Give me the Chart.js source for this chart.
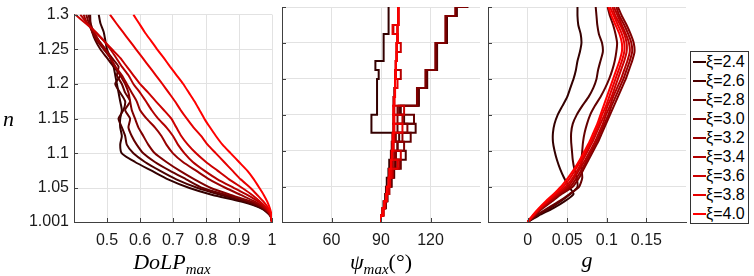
<!DOCTYPE html>
<html>
<head>
<meta charset="utf-8">
<script src="https://cdn.jsdelivr.net/npm/chart.js@4.4.1/dist/chart.umd.min.js"></script>
<style>
  body { margin: 0; background: #fff; }
  #wrap { position: relative; width: 754px; height: 276px; overflow: hidden; }
  #wrap canvas { position: absolute; left: 0; top: 0; }
  .lbl { position: absolute; font-family: 'Liberation Serif', 'DejaVu Serif', serif; font-style: italic;
         font-size: 22px; line-height: 22px; color: #000; white-space: nowrap; }
  .lbl sub { font-size: 15px; vertical-align: -5px; line-height: 0; }
  .lbl .up { font-style: normal; }
  #legend { position: absolute; left: 690px; top: 51px; width: 59px; height: 173px; box-sizing: border-box;
            border: 1px solid #333; background: #fff; padding-top: 1px;
            font-family: 'Liberation Sans', Arial, sans-serif; font-size: 16px; color: #000; }
  #legend .row { height: 18.9px; display: flex; align-items: center; white-space: nowrap; }
  #legend .row i { display: inline-block; width: 13px; height: 2px; margin-left: 2px; margin-right: 0; }
</style>
</head>
<body>
<div id="wrap">
  <canvas id="dolp" width="754" height="276"></canvas>
  <canvas id="psi" width="754" height="276"></canvas>
  <canvas id="gee" width="754" height="276"></canvas>
  <div class="lbl" style="left:3px; top:108px;">n</div>
  <div class="lbl" style="left:172px; top:251px; transform:translateX(-50%);">DoLP<sub>max</sub></div>
  <div class="lbl" style="left:381px; top:251px; transform:translateX(-50%);">ψ<sub>max</sub><span class="up">(°)</span></div>
  <div class="lbl" style="left:587px; top:249px; transform:translateX(-50%);">g</div>
  <div id="legend"></div>
</div>
<script>
// refractive index n (shared y values, bottom to top)
const nValues = [1.001, 1.01, 1.02, 1.03, 1.04, 1.05, 1.0625, 1.075, 1.0875, 1.1, 1.1125, 1.125, 1.1375,
                 1.15, 1.1625, 1.175, 1.1875, 1.2, 1.2125, 1.225, 1.2375, 1.25, 1.2625, 1.275, 1.2875, 1.3];
const xiLabels = ['2.4', '2.6', '2.8', '3.0', '3.2', '3.4', '3.6', '3.8', '4.0'];
const yTicks = [1.001, 1.05, 1.1, 1.15, 1.2, 1.25, 1.3];
const yTickLabels = ['1.001', '1.05', '1.1', '1.15', '1.2', '1.25', '1.3'];
const dolpTicks = [0.5, 0.6, 0.7, 0.8, 0.9, 1];
const psiTicks = [60, 90, 120];
const gTicks = [0, 0.05, 0.1, 0.15];

// DoLP max
const dolp24 = [1.0, 0.995, 0.97, 0.91, 0.82, 0.75, 0.685, 0.635, 0.585, 0.545, 0.54, 0.545, 0.54, 0.54, 0.545, 0.54, 0.535, 0.53, 0.525, 0.52, 0.51, 0.50, 0.495, 0.49, 0.48, 0.475];
const dolp26 = [1.0, 0.995, 0.972, 0.92, 0.845, 0.775, 0.71, 0.66, 0.615, 0.58, 0.56, 0.555, 0.545, 0.535, 0.55, 0.555, 0.54, 0.525, 0.54, 0.52, 0.50, 0.48, 0.465, 0.455, 0.45, 0.449];
const dolp28 = [1.0, 0.995, 0.975, 0.93, 0.86, 0.79, 0.74, 0.69, 0.645, 0.61, 0.59, 0.575, 0.565, 0.57, 0.555, 0.57, 0.555, 0.545, 0.53, 0.535, 0.515, 0.495, 0.475, 0.46, 0.45, 0.444];
const dolp30 = [1.0, 0.996, 0.978, 0.94, 0.875, 0.815, 0.765, 0.72, 0.68, 0.645, 0.625, 0.61, 0.595, 0.585, 0.575, 0.57, 0.565, 0.555, 0.54, 0.525, 0.51, 0.49, 0.47, 0.455, 0.445, 0.437];
const dolp32 = [1.0, 0.996, 0.98, 0.95, 0.905, 0.86, 0.81, 0.77, 0.73, 0.70, 0.68, 0.665, 0.645, 0.62, 0.60, 0.59, 0.575, 0.56, 0.545, 0.525, 0.51, 0.495, 0.475, 0.46, 0.44, 0.429];
const dolp34 = [1.0, 0.997, 0.983, 0.96, 0.925, 0.885, 0.835, 0.795, 0.76, 0.735, 0.715, 0.70, 0.68, 0.655, 0.635, 0.618, 0.60, 0.58, 0.565, 0.545, 0.528, 0.51, 0.49, 0.465, 0.44, 0.419];
const dolp36 = [1.0, 0.997, 0.986, 0.965, 0.94, 0.91, 0.87, 0.835, 0.80, 0.77, 0.745, 0.725, 0.71, 0.695, 0.672, 0.648, 0.625, 0.60, 0.58, 0.56, 0.54, 0.515, 0.49, 0.465, 0.435, 0.404];
const dolp38 = [1.0, 0.998, 0.99, 0.975, 0.955, 0.935, 0.905, 0.88, 0.855, 0.83, 0.805, 0.785, 0.762, 0.742, 0.723, 0.706, 0.687, 0.668, 0.648, 0.628, 0.608, 0.588, 0.568, 0.548, 0.528, 0.509];
const dolp40 = [1.0, 0.999, 0.994, 0.986, 0.975, 0.962, 0.945, 0.925, 0.90, 0.875, 0.85, 0.83, 0.812, 0.795, 0.78, 0.765, 0.748, 0.731, 0.711, 0.691, 0.672, 0.652, 0.633, 0.614, 0.597, 0.58];

// psi max (degrees), drawn as steps
const psi24 = [90, 91, 91.5, 92.5, 93, 93.5, 94.5, 95, 96, 96.5, 97, 84.2, 84.2, 87.6, 87.6, 87.6, 87.6, 88.6, 86.6, 91.6, 91.6, 91.6, 94.6, 94.6, 94.6, 94.6];
const psi26 = [90, 91, 93, 94, 95, 96.5, 98, 99, 105, 100, 101, 111, 104, 102, 113, 113, 118, 118, 124, 124, 124, 130, 130, 130, 136, 143];
const psi28 = [90, 91.5, 92.5, 93, 94.5, 96, 97.5, 102, 99, 100, 108, 100, 110, 101, 112.5, 112.5, 117.5, 117.5, 123.5, 123.5, 123.5, 129.5, 129.5, 129.5, 135.5, 142.5];
const psi30 = [90, 91, 92, 93.5, 94, 95, 97, 98, 99, 104, 99, 106, 100, 100, 111.8, 111.8, 116.9, 116.9, 122.9, 122.9, 122.9, 129, 129, 129, 135, 142];
const psi32 = [90, 91, 92.5, 93, 94.5, 95, 96.5, 97, 98, 97.5, 103, 98, 97.5, 98, 97.5, 98, 98.5, 99, 99, 99.5, 99.5, 100, 100, 100.5, 100.5, 101];
const psi34 = [90, 91.5, 92, 93.5, 94, 95.5, 96, 101, 97, 97.5, 98, 97.5, 103, 97.5, 98, 98.5, 98.5, 102, 99, 99.5, 99.5, 100, 97.5, 100.5, 100.5, 101];
const psi36 = [90, 91, 92.5, 93, 95, 95, 97, 96.5, 102, 97, 98, 97.5, 98, 104, 98, 98.5, 98.5, 99, 99, 99.5, 102, 100, 100, 100.5, 100.5, 101];
const psi38 = [90, 91.5, 92, 93.5, 94, 95.5, 96, 100, 96.5, 97.5, 97, 103, 97.5, 98, 98, 98.5, 100, 98.5, 99, 99.5, 99.5, 100, 97, 100.5, 100.5, 101];
const psi40 = [90, 91, 92, 93, 93.5, 94.5, 95, 96, 96.5, 97, 97.5, 98, 98, 97.5, 98, 98.5, 98.5, 99, 99, 99.5, 99.5, 100, 100, 100.5, 100.5, 101];

// asymmetry g
const g24 = [0, 0.014, 0.032, 0.047, 0.058, 0.052, 0.046, 0.041, 0.037, 0.034, 0.032, 0.032, 0.034, 0.038, 0.044, 0.050, 0.054, 0.058, 0.061, 0.063, 0.066, 0.068, 0.067, 0.064, 0.063, 0.063];
const g26 = [0, 0.012, 0.028, 0.042, 0.054, 0.063, 0.062, 0.059, 0.057, 0.056, 0.055, 0.055, 0.057, 0.062, 0.069, 0.077, 0.083, 0.087, 0.089, 0.092, 0.095, 0.094, 0.090, 0.088, 0.087, 0.086];
const g28 = [0, 0.011, 0.025, 0.040, 0.053, 0.065, 0.069, 0.068, 0.068, 0.069, 0.070, 0.072, 0.075, 0.079, 0.085, 0.092, 0.098, 0.103, 0.107, 0.110, 0.112, 0.113, 0.111, 0.108, 0.104, 0.101];
const g30 = [0, 0.009, 0.019, 0.031, 0.043, 0.057, 0.065, 0.071, 0.077, 0.083, 0.089, 0.094, 0.099, 0.104, 0.109, 0.114, 0.119, 0.124, 0.128, 0.132, 0.135, 0.134, 0.130, 0.125, 0.119, 0.114];
const g32 = [0, 0.008, 0.018, 0.030, 0.041, 0.054, 0.062, 0.069, 0.075, 0.081, 0.087, 0.092, 0.097, 0.102, 0.106, 0.111, 0.116, 0.121, 0.125, 0.129, 0.132, 0.131, 0.127, 0.122, 0.116, 0.112];
const g34 = [0, 0.008, 0.017, 0.028, 0.039, 0.051, 0.059, 0.066, 0.073, 0.079, 0.085, 0.090, 0.095, 0.099, 0.104, 0.108, 0.113, 0.118, 0.122, 0.126, 0.129, 0.128, 0.124, 0.119, 0.114, 0.109];
const g36 = [0, 0.007, 0.016, 0.026, 0.037, 0.048, 0.057, 0.064, 0.070, 0.076, 0.082, 0.087, 0.092, 0.097, 0.101, 0.106, 0.110, 0.114, 0.118, 0.122, 0.125, 0.125, 0.122, 0.117, 0.111, 0.107];
const g38 = [0, 0.007, 0.015, 0.025, 0.035, 0.045, 0.054, 0.061, 0.068, 0.074, 0.080, 0.085, 0.090, 0.094, 0.099, 0.103, 0.107, 0.111, 0.115, 0.119, 0.122, 0.122, 0.119, 0.114, 0.109, 0.104];
const g40 = [0, 0.006, 0.014, 0.023, 0.033, 0.042, 0.051, 0.059, 0.066, 0.072, 0.078, 0.083, 0.088, 0.092, 0.096, 0.100, 0.104, 0.108, 0.112, 0.116, 0.119, 0.119, 0.116, 0.111, 0.106, 0.102];

const dolpSeries = [dolp24, dolp26, dolp28, dolp30, dolp32, dolp34, dolp36, dolp38, dolp40];
const psiSeries = [psi24, psi26, psi28, psi30, psi32, psi34, psi36, psi38, psi40];
const gSeries = [g24, g26, g28, g30, g32, g34, g36, g38, g40];

// dark red -> red
const colors = xiLabels.map((_, i) => 'rgb(' + Math.round(51 + i * 204 / 8) + ',0,0)');

const tickFont = { family: "'Liberation Sans', Arial, sans-serif", size: 16 };
const axisColor = '#404040';
const gridColor = '#e2e2e2';

// small inward tick marks like the original
const innerTicks = {
  id: 'innerTicks',
  afterDraw(chart) {
    const { ctx, chartArea: a, scales: { x, y } } = chart;
    ctx.save();
    ctx.strokeStyle = axisColor;
    ctx.lineWidth = 1;
    ctx.beginPath();
    x.ticks.forEach(t => {
      const px = Math.round(x.getPixelForValue(t.value)) + 0.5;
      ctx.moveTo(px, a.bottom);
      ctx.lineTo(px, a.bottom - 4);
    });
    y.ticks.forEach(t => {
      const py = Math.round(y.getPixelForValue(t.value)) + 0.5;
      ctx.moveTo(a.left, py);
      ctx.lineTo(a.left + 4, py);
    });
    ctx.stroke();
    ctx.restore();
  }
};

function panel(id, series, xMin, xMax, xTicks, left, right, showY, stepped) {
  new Chart(document.getElementById(id), {
    type: 'line',
    data: {
      datasets: series.map((s, i) => ({
        label: 'ξ=' + xiLabels[i],
        data: s.map((v, k) => ({ x: v, y: nValues[k] })),
        borderColor: colors[i],
        borderWidth: 2,
        pointRadius: 0,
        tension: stepped ? 0 : 0.2,
        stepped: stepped ? 'after' : false,
        fill: false,
        order: series.length - i
      }))
    },
    options: {
      responsive: false,
      animation: false,
      events: [],
      layout: { padding: { left: 0, right: 754 - right, top: 7, bottom: 0 } },
      plugins: { legend: { display: false }, tooltip: { enabled: false } },
      scales: {
        x: {
          type: 'linear', min: xMin, max: xMax,
          afterBuildTicks: s => { s.ticks = xTicks.map(v => ({ value: v })); },
          afterFit: s => { s.height = 54; },
          grid: { color: gridColor, drawTicks: false },
          border: { color: axisColor, width: 1 },
          ticks: { padding: 9, color: '#1a1a1a', font: tickFont, maxRotation: 0, autoSkip: false,
                   callback: v => String(v) }
        },
        y: {
          type: 'linear', min: 1.001, max: 1.3,
          afterBuildTicks: s => { s.ticks = yTicks.map(v => ({ value: v })); },
          afterFit: s => { s.width = left; },
          grid: { color: gridColor, drawTicks: false },
          border: { color: axisColor, width: 1 },
          ticks: { display: showY, padding: 5, color: '#1a1a1a', font: tickFont, autoSkip: false,
                   callback: (v, i) => yTickLabels[i] }
        }
      }
    },
    plugins: [innerTicks]
  });
}

panel('dolp', dolpSeries, 0.4, 1.0, dolpTicks, 74, 272, true, false);
panel('psi', psiSeries, 30, 150, psiTicks, 282, 480, false, true);
panel('gee', gSeries, -0.05, 0.2, gTicks, 488, 686, false, false);

const legend = document.getElementById('legend');
xiLabels.forEach((xi, i) => {
  const row = document.createElement('div');
  row.className = 'row';
  const mark = document.createElement('i');
  mark.style.background = colors[i];
  row.appendChild(mark);
  row.appendChild(document.createTextNode('ξ=' + xi));
  legend.appendChild(row);
});
</script>
</body>
</html>
